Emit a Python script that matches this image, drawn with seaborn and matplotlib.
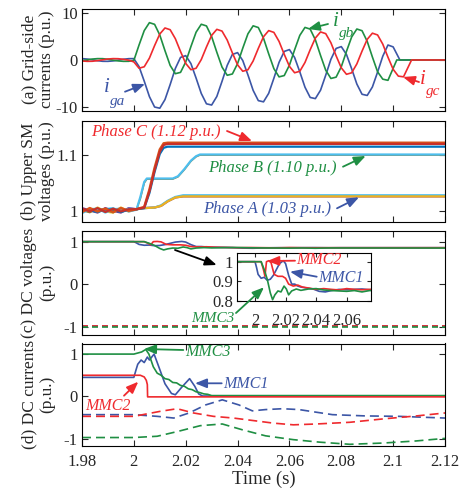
import matplotlib
matplotlib.use("Agg")
import matplotlib.pyplot as plt
import seaborn as sns

W, H = 466, 492

# ---------------- data ----------------
t_grid = [1.980, 1.982, 1.984, 1.986, 1.988, 1.990, 1.992, 1.994, 1.996, 1.998,
          2.000, 2.002, 2.004, 2.006, 2.008, 2.010, 2.012, 2.014, 2.016, 2.018,
          2.020, 2.022, 2.024, 2.026, 2.028, 2.030, 2.032, 2.034, 2.036, 2.038,
          2.040, 2.042, 2.044, 2.046, 2.048, 2.050, 2.052, 2.054, 2.056, 2.058,
          2.060, 2.062, 2.064, 2.066, 2.068, 2.070, 2.072, 2.074, 2.076, 2.078,
          2.080, 2.082, 2.084, 2.086, 2.088, 2.090, 2.092, 2.094, 2.096, 2.098,
          2.100]

# (a) grid-side currents
t_ga = t_grid + [2.1026, 2.120]
i_ga = [0.29, 0.20, 0.03, -0.15, -0.28, -0.29, -0.20, -0.03, 0.15, 0.28,
        0.29, -1.41, -4.52, -7.83, -10.06, -10.31, -8.47, -5.25, -1.81, 0.55,
        0.93, -0.76, -3.87, -7.16, -9.37, -9.63, -7.80, -4.57, -1.16, 1.19,
        1.57, -0.12, -3.20, -6.49, -8.69, -8.95, -7.13, -3.91, -0.51, 1.83,
        2.22, 0.53, -2.54, -5.82, -8.01, -8.26, -6.46, -3.25, 0.15, 2.47,
        2.86, 1.18, -1.88, -5.14, -7.33, -7.58, -5.77, -2.59, 0.80, 3.20,
        2.80, 0.0, 0.0]
t_gb = t_grid[:-1] + [2.1014, 2.120]
i_gb = [-0.15, 0.03, 0.20, 0.29, 0.28, 0.15, -0.03, -0.20, -0.29, -0.28,
        -0.09, 3.20, 6.28, 7.98, 7.62, 5.34, 1.99, -1.17, -2.93, -2.65,
        -0.43, 2.86, 5.94, 7.64, 7.28, 5.00, 1.65, -1.51, -3.27, -2.99,
        -0.77, 2.52, 5.60, 7.30, 6.94, 4.66, 1.31, -1.85, -3.61, -3.33,
        -1.11, 2.18, 5.26, 6.96, 6.60, 4.32, 0.97, -2.19, -3.95, -3.67,
        -1.45, 1.84, 4.92, 6.62, 6.26, 3.98, 0.63, -2.53, -4.10, -4.35,
        0.0, 0.0]
t_gc = t_grid + [2.102, 2.104, 2.1071, 2.120]
i_gc = [-0.21, -0.29, -0.27, -0.14, 0.04, 0.21, 0.29, 0.27, 0.14, -0.04,
        -0.41, -1.76, -1.45, 0.40, 3.08, 5.55, 6.84, 6.47, 4.55, 1.81,
        -0.73, -2.08, -1.77, 0.09, 2.78, 5.26, 6.55, 6.18, 4.26, 1.51,
        -1.04, -2.41, -2.09, -0.22, 2.48, 4.97, 6.28, 5.90, 3.97, 1.21,
        -1.36, -2.73, -2.42, -0.53, 2.19, 4.69, 6.00, 5.63, 3.68, 0.90,
        -1.68, -3.06, -2.74, -0.84, 1.89, 4.41, 5.73, 5.35, 3.39, 0.60,
        -1.99, -3.45, -3.60, 0.0, 0.0]

# (b) upper SM voltages
t_smc = [1.980, 1.983, 1.986, 1.989, 1.992, 1.995, 1.998, 2.001, 2.004, 2.006, 2.008, 2.010, 2.0115, 2.013, 2.120]
v_smc1 = [1.004, 0.999, 1.005, 0.998, 1.004, 0.999, 1.003, 1.003, 1.006, 1.035, 1.073, 1.106, 1.118, 1.120, 1.120]
v_smc2 = [0.998, 1.005, 0.999, 1.004, 0.998, 1.005, 1.000, 1.003, 1.007, 1.038, 1.077, 1.110, 1.121, 1.122, 1.122]
v_smc3 = [1.002, 1.001, 0.998, 1.003, 1.002, 0.998, 1.002, 1.003, 1.005, 1.032, 1.070, 1.102, 1.113, 1.115, 1.115]
t_smb = [1.980, 1.983, 1.986, 1.989, 1.992, 1.995, 1.998, 2.001, 2.0025, 2.004, 2.005, 2.015, 2.017, 2.0195, 2.022, 2.024, 2.0255, 2.120]
v_smb1 = [0.996, 1.003, 1.004, 0.997, 1.003, 1.004, 0.999, 1.002, 1.025, 1.052, 1.058, 1.058, 1.062, 1.075, 1.090, 1.098, 1.101, 1.101]
v_smb2 = [1.001, 0.997, 1.004, 1.002, 0.997, 1.004, 1.001, 1.002, 1.022, 1.050, 1.057, 1.057, 1.061, 1.074, 1.089, 1.097, 1.100, 1.100]
t_sma = [1.980, 1.983, 1.986, 1.989, 1.992, 1.995, 1.998, 2.001, 2.004, 2.008, 2.0105, 2.013, 2.016, 2.019, 2.120]
v_sma1 = [1.003, 0.998, 1.006, 0.999, 0.997, 1.006, 0.999, 1.003, 1.005, 1.006, 1.009, 1.017, 1.024, 1.026, 1.026]
v_sma2 = [0.999, 1.004, 0.998, 1.003, 1.005, 0.998, 1.004, 1.003, 1.005, 1.006, 1.010, 1.018, 1.025, 1.028, 1.028]
v_sma3 = [1.005, 1.001, 0.997, 1.005, 1.000, 0.997, 1.005, 1.003, 1.005, 1.006, 1.009, 1.017, 1.024, 1.026, 1.026]

# (c) DC voltages
t_vdc1 = [1.980, 2.000, 2.001, 2.002, 2.004, 2.006, 2.008, 2.010, 2.012, 2.014, 2.016, 2.0185, 2.020, 2.022, 2.024,
          2.026, 2.028, 2.030, 2.034, 2.038, 2.042, 2.046, 2.050, 2.055, 2.060, 2.065, 2.070, 2.075, 2.080, 2.120]
v_vdc1 = [1.0, 1.0, 0.97, 0.935, 0.915, 0.92, 0.905, 0.91, 0.93, 0.96, 0.99, 1.005, 0.99, 0.93, 0.885,
          0.885, 0.875, 0.87, 0.865, 0.86, 0.848, 0.845, 0.852, 0.858, 0.856, 0.858, 0.86, 0.856, 0.858, 0.858]
t_vdc2 = [1.980, 2.004, 2.0055, 2.0065, 2.0075, 2.009, 2.0105, 2.0125, 2.015, 2.018, 2.020, 2.022, 2.025,
          2.028, 2.031, 2.035, 2.040, 2.045, 2.050, 2.055, 2.060, 2.065, 2.070, 2.075, 2.120]
v_vdc2 = [1.0, 1.0, 0.96, 0.925, 1.0, 1.005, 0.995, 0.935, 0.925, 0.925, 0.915, 0.885, 0.875,
          0.88, 0.87, 0.865, 0.858, 0.862, 0.858, 0.855, 0.862, 0.858, 0.856, 0.858, 0.858]
t_vdc3 = [1.980, 2.004, 2.006, 2.008, 2.010, 2.0115, 2.013, 2.015, 2.017, 2.019, 2.0205, 2.022, 2.024,
          2.027, 2.030, 2.035, 2.040, 2.045, 2.050, 2.055, 2.060, 2.065, 2.070, 2.075, 2.120]
v_vdc3 = [1.0, 1.0, 0.96, 0.91, 0.84, 0.805, 0.83, 0.85, 0.845, 0.875, 0.86, 0.83, 0.85,
          0.86, 0.853, 0.86, 0.862, 0.855, 0.852, 0.85, 0.848, 0.852, 0.845, 0.852, 0.85]
t_vneg = [1.980, 2.120]
v_vneg1 = [-0.985, -0.985]
v_vneg2 = [-0.975, -0.975]
v_vneg3 = [-0.995, -0.995]

# (d) DC currents
t_idc1 = [1.980, 2.000, 2.0008, 2.0015, 2.0028, 2.004, 2.0052, 2.006, 2.0078, 2.0095, 2.012, 2.0145,
          2.016, 2.0185, 2.0215, 2.0235, 2.025, 2.0265, 2.120]
v_idc1 = [0.45, 0.45, 0.62, 0.76, 0.86, 0.80, 0.93, 0.86, 1.00, 0.72, 0.30, 0.07,
          0.04, 0.22, 0.42, 0.24, 0.06, 0.01, 0.01]
t_idc2 = [1.980, 2.0025, 2.004, 2.0048, 2.0052, 2.0053, 2.120]
v_idc2 = [0.50, 0.50, 0.46, 0.38, 0.28, -0.01, -0.01]
t_idc3 = [1.980, 2.000, 2.003, 2.0046, 2.0058, 2.0075, 2.009, 2.0105, 2.012, 2.0135, 2.015, 2.0165,
          2.018, 2.0195, 2.021, 2.0225, 2.024, 2.0255, 2.027, 2.0285, 2.030, 2.120]
v_idc3 = [1.0, 1.0, 1.05, 1.11, 1.0, 0.70, 0.55, 0.50, 0.42, 0.40, 0.33, 0.32,
          0.26, 0.24, 0.18, 0.16, 0.11, 0.09, 0.06, 0.05, 0.02, 0.02]
t_ineg1 = [1.980, 2.000, 2.009, 2.0154, 2.0213, 2.0277, 2.0341, 2.0405, 2.0457, 2.0508, 2.0573, 2.0637,
           2.0701, 2.0766, 2.0894, 2.1023, 2.120]
v_ineg1 = [-0.43, -0.43, -0.47, -0.51, -0.39, -0.20, -0.08, -0.20, -0.34, -0.31, -0.29, -0.31,
           -0.37, -0.43, -0.46, -0.47, -0.51]
t_ineg2 = [1.980, 2.000, 2.0103, 2.0167, 2.023, 2.0307, 2.0384, 2.0461, 2.0538, 2.0615, 2.0705,
           2.0833, 2.0962, 2.109, 2.120]
v_ineg2 = [-0.47, -0.47, -0.35, -0.29, -0.39, -0.47, -0.51, -0.57, -0.63, -0.67, -0.65,
           -0.61, -0.53, -0.46, -0.39]
t_ineg3 = [1.980, 2.000, 2.009, 2.0167, 2.0256, 2.0341, 2.042, 2.0508, 2.0615, 2.0718, 2.0833,
           2.0962, 2.109, 2.120]
v_ineg3 = [-0.97, -0.97, -0.94, -0.83, -0.69, -0.65, -0.79, -0.93, -1.02, -1.08, -1.13,
           -1.10, -1.05, -0.99]

x_ticks = [1.98, 2.0, 2.02, 2.04, 2.06, 2.08, 2.1, 2.12]
x_ticklabels = ["1.98", "2", "2.02", "2.04", "2.06", "2.08", "2.1", "2.12"]

BLUE, GREEN, RED = "#3c56a6", "#1f8f43", "#ef2a2e"

# ---------------- style ----------------
sns.set_style("ticks")
plt.rcParams["font.family"] = ["Liberation Serif", "DejaVu Serif"]
plt.rcParams["axes.unicode_minus"] = False

fig = plt.figure(figsize=(W / 100, H / 100), dpi=100)


def px_rect(top, bottom, left=82, right=445):
    return [left / W, 1 - bottom / H, (right - left) / W, (bottom - top) / H]


def line(ax, t, v, color, lw=1.2, ls="-"):
    sns.lineplot(x=t, y=v, ax=ax, color=color, lw=lw, linestyle=ls,
                 estimator=None, sort=False)


def style_axes(ax, ylabel=None, xlabels=False):
    ax.set_xlim(1.98, 2.12)
    ax.set_xticks(x_ticks)
    if xlabels:
        ax.set_xticklabels(x_ticklabels)
    else:
        ax.tick_params(labelbottom=False)
    ax.tick_params(direction="in", top=True, right=True, length=4, width=0.8,
                   labelsize=12, pad=3)
    ax.tick_params(axis="x", pad=6)
    for s in ax.spines.values():
        s.set_linewidth(0.8)
        s.set_color("black")
    if ylabel:
        ax.set_ylabel(ylabel, fontsize=12.5, linespacing=1.15)
        ax.yaxis.set_label_coords(-0.075, 0.5)


ax_a = fig.add_axes(px_rect(9, 110.5))
ax_b = fig.add_axes(px_rect(121, 221.5))
ax_c = fig.add_axes(px_rect(231, 334.5))
ax_d = fig.add_axes(px_rect(343.5, 446))

# (a)
line(ax_a, t_ga, i_ga, BLUE)
line(ax_a, t_gb, i_gb, GREEN)
line(ax_a, t_gc, i_gc, RED)
ax_a.set_ylim(-10.8, 10.9)
ax_a.set_yticks([-10, 0, 10])
style_axes(ax_a, "(a) Grid-side\ncurrents (p.u.)")

# (b)
line(ax_b, t_sma, v_sma3, "#7E2F8E", lw=1.6)
line(ax_b, t_sma, v_sma2, "#4DBEEE", lw=1.6)
line(ax_b, t_sma, v_sma1, "#EDB120", lw=1.6)
line(ax_b, t_smb, v_smb2, "#8a7f3c", lw=1.2)
line(ax_b, t_smb, v_smb1, "#4DBEEE", lw=1.6)
line(ax_b, t_smc, v_smc3, "#0072BD", lw=1.6)
line(ax_b, t_smc, v_smc2, "#D95319", lw=1.8)
line(ax_b, t_smc, v_smc1, "#c8302a", lw=1.6)
ax_b.set_ylim(0.981, 1.161)
ax_b.set_yticks([1.0, 1.1])
ax_b.set_yticklabels(["1", "1.1"])
style_axes(ax_b, "(b) Upper SM\nvoltages (p.u.)")

# (c)
dash_c = (0, (3.6, 2.4))
line(ax_c, t_vneg, v_vneg1, BLUE, ls=dash_c)
line(ax_c, t_vneg, v_vneg2, RED, ls=dash_c)
line(ax_c, t_vneg, v_vneg3, GREEN, ls=dash_c)
line(ax_c, t_vdc1, v_vdc1, BLUE)
line(ax_c, t_vdc2, v_vdc2, RED)
line(ax_c, t_vdc3, v_vdc3, GREEN)
ax_c.set_ylim(-1.18, 1.25)
ax_c.set_yticks([-1, 0, 1])
style_axes(ax_c, "(c) DC voltages\n(p.u.)")

# inset of (c)
ax_in = fig.add_axes([237.3 / W, 1 - 300.7 / H, (370.7 - 237.3) / W, (300.7 - 253.3) / H])
line(ax_in, t_vdc1, v_vdc1, BLUE)
line(ax_in, t_vdc2, v_vdc2, RED)
line(ax_in, t_vdc3, v_vdc3, GREEN)
ax_in.set_xlim(1.9884, 2.0757)
ax_in.set_ylim(0.8, 1.043)
ax_in.set_xticks([2.0, 2.02, 2.04, 2.06])
ax_in.set_xticklabels(["2", "2.02", "2.04", "2.06"])
ax_in.set_yticks([0.8, 0.9, 1.0])
ax_in.set_yticklabels(["0.8", "0.9", "1"])
ax_in.tick_params(direction="in", top=True, right=True, length=3, width=0.8, labelsize=12, pad=3)
ax_in.tick_params(axis="x", pad=9)
for s in ax_in.spines.values():
    s.set_linewidth(0.8)
    s.set_color("black")

# (d)
dash_d = (0, (5.4, 3.0))
line(ax_d, t_ineg1, v_ineg1, BLUE, ls=dash_d)
line(ax_d, t_ineg2, v_ineg2, RED, ls=dash_d)
line(ax_d, t_ineg3, v_ineg3, GREEN, ls=dash_d)
line(ax_d, t_idc1, v_idc1, BLUE)
line(ax_d, t_idc3, v_idc3, GREEN)
line(ax_d, t_idc2, v_idc2, RED)
ax_d.set_ylim(-1.17, 1.25)
ax_d.set_yticks([-1, 0, 1])
style_axes(ax_d, "(d) DC currents\n(p.u.)", xlabels=True)
ax_d.set_xlabel("Time (s)", fontsize=13.5, labelpad=0)

# ---------------- annotations (overlay in pixel coordinates) ----------------
ov = fig.add_axes([0, 0, 1, 1])
ov.set_xlim(0, W)
ov.set_ylim(H, 0)
ov.axis("off")


def arrow(tail, head, color):
    ov.annotate("", xy=head, xytext=tail,
                arrowprops=dict(arrowstyle="-|>,head_length=0.7,head_width=0.28",
                                color=color, lw=1.3, shrinkA=0, shrinkB=0))


def label(x, y, s, color, size=12):
    ov.text(x, y, s, color=color, fontsize=size, style="italic", ha="left", va="center")


# (a) current labels
label(104, 88, "i", BLUE, 15)
label(110, 101, "ga", BLUE, 11)
arrow((125, 91.7), (145, 84), BLUE)
label(333, 21, "i", GREEN, 15)
label(339, 33, "gb", GREEN, 11)
arrow((328, 24), (308, 29), GREEN)
label(420, 80, "i", RED, 15)
label(426, 92, "gc", RED, 11)
arrow((419, 82), (403, 77), RED)

# (b) phase labels
label(91, 132, "Phase C (1.12 p.u.)", RED)
arrow((227, 131), (252, 141), RED)
label(208, 168, "Phase B (1.10 p.u.)", GREEN)
arrow((343, 166.7), (365.7, 156), GREEN)
label(203, 209, "Phase A (1.03 p.u.)", BLUE)
arrow((337, 208.3), (359, 197.3), BLUE)

# (c) labels
arrow((175, 250), (216.7, 265), "black")
label(296, 260.5, "MMC2", RED, 11.5)
arrow((295, 260.7), (267.3, 261), RED)
label(318, 277.5, "MMC1", BLUE, 11.5)
arrow((316.7, 276.7), (290, 271.7), BLUE)
label(191, 319, "MMC3", GREEN, 11)
arrow((236, 313), (264, 287.3), GREEN)

# (d) labels
label(185, 351.5, "MMC3", GREEN, 11.5)
arrow((183.3, 350), (144, 349), GREEN)
label(223, 384.5, "MMC1", BLUE, 11.5)
arrow((221.7, 383.3), (195, 383.3), BLUE)
label(85, 405.5, "MMC2", RED, 11.5)
arrow((124, 395.7), (138.3, 381.7), RED)

fig.savefig("out.png", dpi=100)
